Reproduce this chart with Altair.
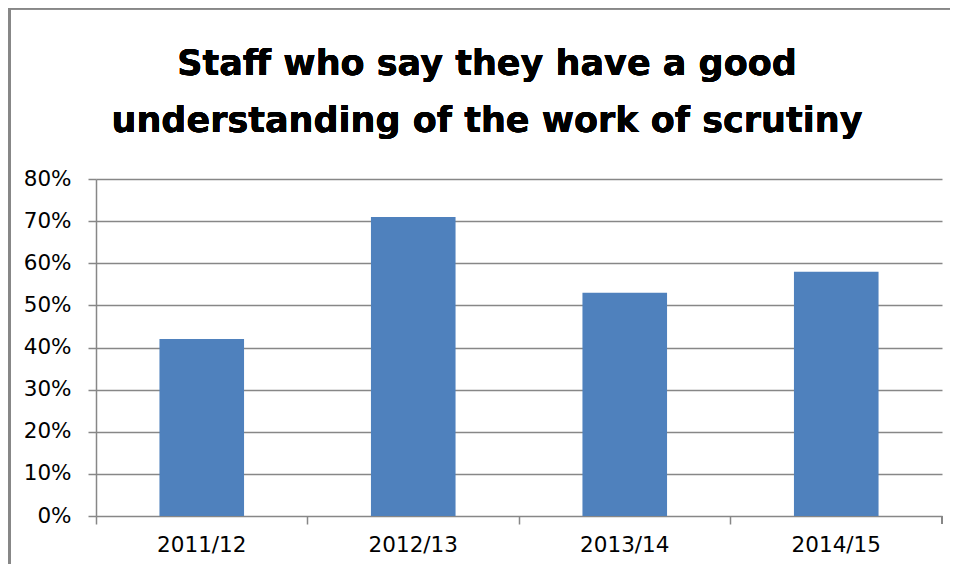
import altair as alt
import pandas as pd

years = ["2011/12", "2012/13", "2013/14", "2014/15"]
values = [0.42, 0.71, 0.53, 0.58]
title_lines = ["Staff who say they have a good", "understanding of the work of scrutiny"]

df = pd.DataFrame({"year": years, "value": values})

W, H = 846, 337
GRID = "#878787"
FONT = "DejaVu Sans"

bars = alt.Chart(df).mark_bar(color="#4F81BD", width=alt.RelativeBandSize(0.4)).encode(
    x=alt.X("year:N", sort=years, title=None,
            scale=alt.Scale(paddingInner=0, paddingOuter=0),
            axis=alt.Axis(labelAngle=0, bandPosition=0, tickSize=8, tickColor=GRID,
                          tickWidth=1.5, domain=False, grid=False, labelPadding=10,
                          labelFontSize=21.5, labelFont=FONT, labelColor="#000000")),
    y=alt.Y("value:Q", title=None,
            scale=alt.Scale(domain=[0, 0.8]),
            axis=alt.Axis(format=".0%", values=[0, .1, .2, .3, .4, .5, .6, .7, .8],
                          tickSize=8, tickColor=GRID, tickWidth=1.5,
                          domainColor=GRID, domainWidth=1.5,
                          gridColor=GRID, gridWidth=1.5, gridOpacity=1,
                          labelPadding=17, labelFontSize=21.5, labelFont=FONT,
                          labelColor="#000000")),
)

last_tick = alt.Chart(df).mark_rule(color=GRID, strokeWidth=1.5).encode(
    x=alt.value(W), y=alt.value(H), y2=alt.value(H + 8)
)
# frame: only its top and left edges fall inside the picture
frame = alt.Chart(df).mark_rect(filled=False, stroke=GRID, strokeWidth=3).encode(
    x=alt.value(-86.5), x2=alt.value(W + 40), y=alt.value(-171), y2=alt.value(H + 80)
)

title_style = dict(fontSize=35, font=FONT, fontWeight="bold", color="#000000",
                   align="center", baseline="alphabetic")
title1 = alt.Chart(df).mark_text(**title_style).encode(
    x=alt.value(391), y=alt.value(-104), text=alt.value(title_lines[0])
)
title2 = alt.Chart(df).mark_text(**title_style).encode(
    x=alt.value(391), y=alt.value(-47), text=alt.value(title_lines[1])
)

chart = alt.layer(bars, last_tick, frame, title1, title2).properties(
    width=W, height=H,
    autosize=alt.AutoSizeParams(type="none"),
    padding={"left": 88, "top": 171, "right": 8, "bottom": 48},
).configure_view(stroke=None)

chart.save("out.html", embed_options={"renderer": "svg", "actions": False})
